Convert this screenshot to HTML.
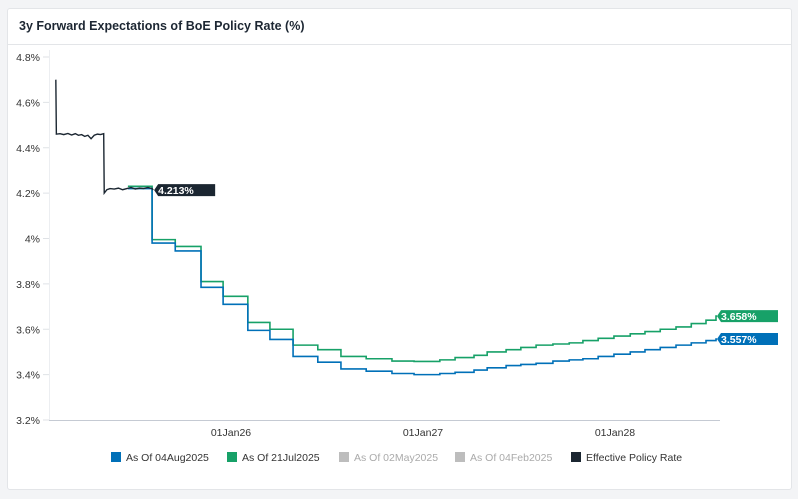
<!DOCTYPE html>
<html><head><meta charset="utf-8"><style>
body{margin:0;background:#f3f4f6;font-family:"Liberation Sans",sans-serif;}
#card{position:absolute;left:7px;top:8px;width:783px;height:480px;background:#fff;border:1px solid #e3e5e8;border-radius:3px;}
#title{position:absolute;left:11px;top:10px;font-size:12.5px;font-weight:bold;color:#1d2733;}
#hdr{position:absolute;left:0;top:35px;width:783px;height:1px;background:#e3e5e8;}
svg{position:absolute;left:0;top:0;}
</style></head><body>
<div id="card">
<div id="title">3y Forward Expectations of BoE Policy Rate (%)</div>
<div id="hdr"></div>
</div>
<svg id="chart" width="798" height="499"></svg>
<script>
// days from 01Jan2026
const stepDays=[-196,-150,-106,-57,-15,32,74,118,165,209,257,306,348,397,426,462,487,523,551,580,612,643,669,698,728,759,787,816,846,875,903,922];
const blueVals=[4.22,3.98,3.945,3.785,3.71,3.595,3.555,3.48,3.455,3.425,3.415,3.405,3.40,3.405,3.41,3.42,3.43,3.44,3.445,3.45,3.46,3.465,3.47,3.48,3.49,3.50,3.51,3.52,3.53,3.54,3.55,3.557];
const greenVals=[4.23,3.995,3.965,3.81,3.745,3.63,3.60,3.53,3.51,3.48,3.47,3.46,3.458,3.465,3.475,3.485,3.50,3.51,3.52,3.53,3.535,3.54,3.55,3.56,3.57,3.58,3.59,3.60,3.61,3.625,3.64,3.658];
const effDays=[-333,-332,-325,-318,-310,-303,-296,-290,-284,-278,-272,-266,-260,-254,-248,-242,-241,-236,-230,-222,-214,-206,-198,-190,-182,-174,-166,-158,-150,-148];
const effVals=[4.70,4.46,4.462,4.458,4.463,4.456,4.462,4.455,4.458,4.45,4.455,4.44,4.455,4.46,4.458,4.462,4.20,4.215,4.22,4.218,4.222,4.215,4.22,4.225,4.218,4.222,4.22,4.225,4.22,4.213];
const yTicks=[3.2,3.4,3.6,3.8,4.0,4.2,4.4,4.6,4.8];
const yTickLabels=["3.2%","3.4%","3.6%","3.8%","4%","4.2%","4.4%","4.6%","4.8%"];
const xTicks=[0,365,730];
const xTickLabels=["01Jan26","01Jan27","01Jan28"];
const legendLabels=["As Of 04Aug2025","As Of 21Jul2025","As Of 02May2025","As Of 04Feb2025","Effective Policy Rate"];
const legendColors=["#0070b8","#17a168","#bdbdbd","#bdbdbd","#1b2631"];

const NS="http://www.w3.org/2000/svg";
const svg=document.getElementById('chart');
const X=d=>231+d*192/365;
const Y=v=>420-(v-3.2)*226.875;
function mk(t,a,p){const e=document.createElementNS(NS,t);for(const k in a)e.setAttribute(k,a[k]);(p||svg).appendChild(e);return e;}
mk('line',{x1:49.5,y1:50,x2:49.5,y2:420,stroke:'#eceef1'});
yTicks.forEach((v,i)=>{
 const l=mk('line',{x1:43,x2:49,y1:Y(v),y2:Y(v),stroke:'#dfe2e6'});
 
 
 const t=mk('text',{x:40,y:Y(v)+4,'text-anchor':'end','font-size':'10.5',fill:'#333'});
 t.textContent=yTickLabels[i];
 
 
});
const ax=mk('line',{x1:49,x2:720,y1:420.5,y2:420.5,stroke:'#c5cad3'});


xTicks.forEach((d,i)=>{
 const t=mk('text',{x:X(d),y:436,'text-anchor':'middle','font-size':'10.5',fill:'#333'});
 t.textContent=xTickLabels[i];
 
 
});
function stepPath(days,vals){let p='';for(let i=0;i<days.length;i++){const x=X(days[i]),y=Y(vals[i]);if(i==0)p+='M'+x+','+y;else p+='H'+x+'V'+y;}return p+'H'+(X(days[days.length-1])+1);}
const g=mk('path',{d:stepPath(stepDays,greenVals),fill:'none',stroke:'#17a168','stroke-width':1.6});


const b=mk('path',{d:stepPath(stepDays,blueVals),fill:'none',stroke:'#0070b8','stroke-width':1.6});


let ep='';effDays.forEach((d,i)=>{ep+=(i?'L':'M')+X(d)+','+Y(effVals[i]);});
const e=mk('path',{d:ep,fill:'none',stroke:'#1b2631','stroke-width':1.4});


function tag(x,y,txt,col,name){
 const gg=mk('g',{});
 
 
 mk('path',{d:`M${x},${y} L${x+4},${y-6} H${x+61} V${y+6} H${x+4} Z`,fill:col},gg);
 const t=mk('text',{x:x+4,y:y+4,'font-size':'10.5','font-weight':'bold',fill:'#fff'},gg);
 t.textContent=txt;
}
tag(X(effDays[effDays.length-1])+1,Y(effVals[effVals.length-1]),effVals[effVals.length-1].toFixed(3)+'%','#1b2631','effective-rate-label');
const n=stepDays.length-1;
tag(X(stepDays[n])+1,Y(greenVals[n]),greenVals[n].toFixed(3)+'%','#17a168','green-end-label');
tag(X(stepDays[n])+1,Y(blueVals[n]),blueVals[n].toFixed(3)+'%','#0070b8','blue-end-label');
const lx=[111,227,339,455,571];
legendLabels.forEach((s,i)=>{
 const gg=mk('g',{});
 
 
 mk('rect',{x:lx[i],y:452,width:10,height:10,fill:legendColors[i]},gg);
 const t=mk('text',{x:lx[i]+15,y:461,'font-size':'10.5',fill:(i==2||i==3)?'#aaa':'#333'},gg);
 t.textContent=s;
});
</script>
</body></html>
